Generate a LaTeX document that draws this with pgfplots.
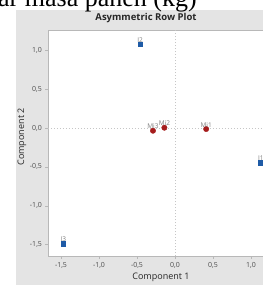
\documentclass[border=0pt]{standalone}
\usepackage{pgfplots}
\pgfplotsset{compat=1.18}
\usepackage{fontspec}
\setmainfont{Open Sans}
\newfontfamily\serifdoc{Liberation Serif}
\definecolor{bg}{HTML}{E4E4E4}
\definecolor{ptblue}{HTML}{1F5BA6}
\definecolor{ptred}{HTML}{A51C1C}
\definecolor{frame}{HTML}{B8B8B8}
\begin{document}
\begin{tikzpicture}[x=1pt,y=1pt]
\fill[white] (0,0) rectangle (263,285);
\fill[bg] (16,0) rectangle (263,275);
\node[anchor=base west, inner sep=0, font=\serifdoc\fontsize{26}{28}\selectfont] at (-2,279) {ar masa panen (kg)};
\node[font=\bfseries\fontsize{9.5}{11}\selectfont, text=black!85] at (146,267) {Asymmetric Row Plot};
\begin{axis}[
  at={(48pt,29pt)}, anchor=south west,
  scale only axis, width=230pt, height=226pt,
  xmin=-1.671, xmax=1.355, ymin=-1.649, ymax=1.263,
  axis background/.style={fill=white},
  axis line style={draw=frame},
  tick align=outside, xtick pos=lower, ytick pos=left,
  major tick length=2.5pt,
  tick style={draw=frame},
  xtick={-1.5,-1,-0.5,0,0.5,1},
  ytick={-1.5,-1,-0.5,0,0.5,1},
  ticklabel style={font=\fontsize{7}{8}\selectfont, text=black!70},
  /pgf/number format/.cd, use comma, fixed, fixed zerofill, precision=1, assume math mode=true,
  /pgfplots/.cd,
  extra x ticks={0}, extra x tick labels={},
  extra y ticks={0}, extra y tick labels={},
  extra tick style={grid=major, major grid style={draw=gray!45, dash pattern=on 1.5pt off 1.5pt, line width=0.6pt}, major tick length=0pt},
  xlabel={Component 1},
  xlabel style={font=\fontsize{9}{10}\selectfont, text=black!85, at={(axis description cs:0.491,-0.093)}, anchor=center},
  ylabel={Component 2},
  ylabel style={font=\fontsize{9}{10}\selectfont, text=black!85, at={(axis description cs:-0.113,0.527)}, anchor=center},
  nodes near coords,
  point meta=explicit symbolic,
  every node near coord/.style={font=\fontsize{6.5}{7}\selectfont, text=gray, inner sep=0.3pt, anchor=south, yshift=1.5pt},
]
\addplot[only marks, mark=square*, mark size=2.3pt, mark options={draw=ptblue, fill=ptblue}] table[meta=label] {
x y label
1.13 -0.447 I1
-0.46 1.08 I2
-1.47 -1.49 I3
};
\addplot[only marks, mark=*, mark size=2.7pt, mark options={draw=ptred, fill=ptred}] table[meta=label] {
x y label
0.41 -0.013 Mi1
-0.14 0.004 Mi2
-0.29 -0.035 Mi3
};
\end{axis}
\pgfresetboundingbox
\useasboundingbox (0,0) rectangle (263,285);
\end{tikzpicture}
\end{document}
